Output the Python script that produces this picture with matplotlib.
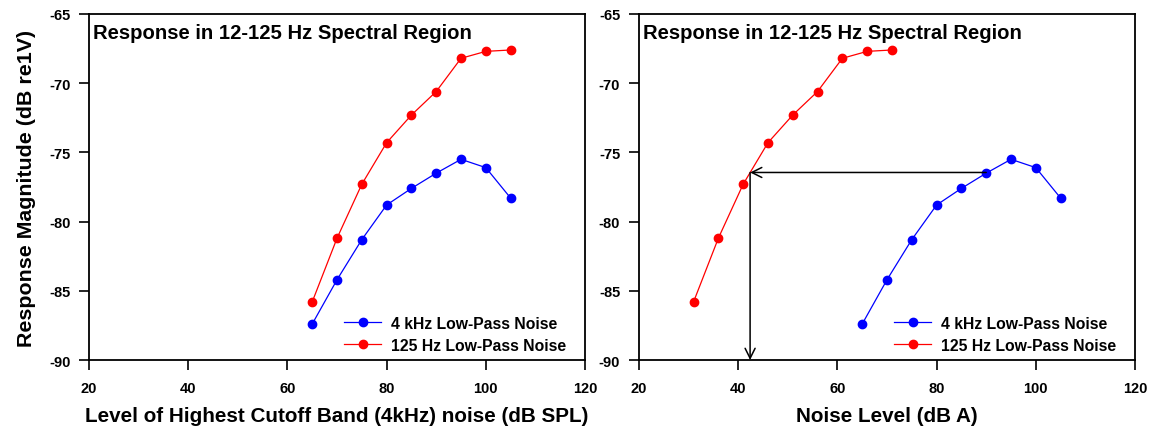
import numpy as np
import matplotlib
matplotlib.use("Agg")
import matplotlib.pyplot as plt

plt.rcParams['font.family'] = ['Liberation Sans', 'DejaVu Sans']
plt.rcParams['font.weight'] = 'bold'
plt.rcParams['axes.unicode_minus'] = False

# data
level_4k = np.array([65, 70, 75, 80, 85, 90, 95, 100, 105])
resp_4k = np.array([-87.4, -84.2, -81.3, -78.8, -77.6, -76.5, -75.5, -76.1, -78.3])

level_125 = np.array([65, 70, 75, 80, 85, 90, 95, 100, 105])
level_125_dba = np.array([31, 36, 41, 46, 51, 56, 61, 66, 71])
resp_125 = np.array([-85.8, -81.2, -77.3, -74.3, -72.3, -70.6, -68.2, -67.7, -67.6])

title_txt = "Response in 12-125 Hz Spectral Region"
xlabels = ["Level of Highest Cutoff Band (4kHz) noise (dB SPL)", "Noise Level (dB A)"]
ylabel = "Response Magnitude (dB re1V)"

# equivalence arrow in the right panel
arrow_start = (90, -76.45)
arrow_corner = (42.4, -76.45)

fig = plt.figure(figsize=(11.53, 4.31), dpi=100)
ax1 = fig.add_axes([0.0772, 0.1624, 0.4302, 0.8028])
ax2 = fig.add_axes([0.5542, 0.1624, 0.4302, 0.8028])

for ax, x125, xl in [(ax1, level_125, xlabels[0]), (ax2, level_125_dba, xlabels[1])]:
    ax.plot(level_4k, resp_4k, color='blue', marker='o', ms=6, lw=0.9, label='4 kHz Low-Pass Noise')
    ax.plot(x125, resp_125, color='red', marker='o', ms=6, lw=0.9, label='125 Hz Low-Pass Noise')
    ax.set(xlim=(20, 120), ylim=(-90, -65), xticks=np.arange(20, 121, 20), yticks=np.arange(-90, -64, 5))
    ax.tick_params(direction='out', length=7, width=1.2, labelsize=10.5, top=False, right=False)
    ax.tick_params(axis='x', pad=8)
    ax.tick_params(axis='y', pad=6.5)
    for s in ax.spines.values():
        s.set_linewidth(1.3)
    ax.text(0.008, 0.975, title_txt, transform=ax.transAxes, fontsize=14.6, fontweight='bold', va='top', ha='left')
    ax.set_xlabel(xl, fontsize=14.9, fontweight='bold', labelpad=8)
    ax.legend(loc='lower right', frameon=False, fontsize=11.3, handlelength=2.4,
              handletextpad=0.6, labelspacing=0.45, bbox_to_anchor=(0.99, -0.02))

ax1.set_ylabel(ylabel, fontsize=15.4, fontweight='bold', labelpad=9)

ax2.annotate('', xy=arrow_corner, xytext=arrow_start,
             arrowprops=dict(arrowstyle='->', lw=1.1, color='black', mutation_scale=18, shrinkA=0, shrinkB=0))
ax2.annotate('', xy=(arrow_corner[0], -90), xytext=arrow_corner,
             arrowprops=dict(arrowstyle='->', lw=1.1, color='black', mutation_scale=18, shrinkA=0, shrinkB=0))

fig.savefig('out.png', dpi=100)
